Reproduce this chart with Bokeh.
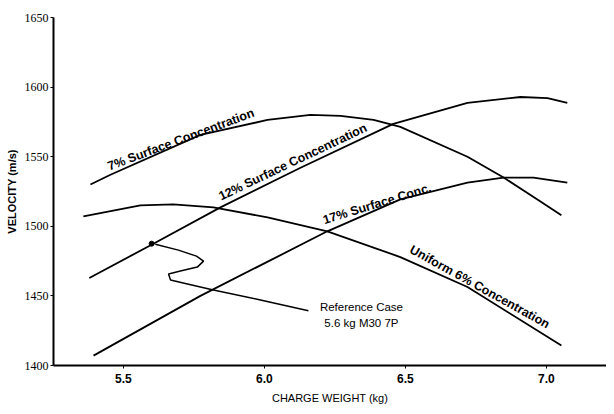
from bokeh.plotting import figure
from bokeh.models import Range1d, FixedTicker
from bokeh.core.properties import value
from bokeh.embed import file_html
from bokeh.resources import INLINE
import math

# ---- data ----
x_ticks = [5.5, 6.0, 6.5, 7.0]
x_tick_labels = ["5.5", "6.0", "6.5", "7.0"]
y_ticks = [1400, 1450, 1500, 1550, 1600, 1650]
y_tick_labels = ["1400", "1450", "1500", "1550", "1600", "1650"]

c7_x = [5.383, 5.454, 5.773, 6.011, 6.163, 6.270, 6.387, 6.482, 6.720, 6.848, 6.968, 7.053]
c7_y = [1530.0, 1537.0, 1565.7, 1576.4, 1580.0, 1579.3, 1576.4, 1571.4, 1550.0, 1535.0, 1519.3, 1507.9]

c12_x = [5.379, 5.603, 5.844, 6.128, 6.457, 6.720, 6.908, 7.004, 7.074]
c12_y = [1462.9, 1487.1, 1513.6, 1542.1, 1573.6, 1588.6, 1592.9, 1592.1, 1588.6]

c17_x = [5.394, 5.773, 6.223, 6.482, 6.720, 6.848, 6.954, 7.074]
c17_y = [1407.1, 1450.0, 1496.4, 1519.3, 1531.4, 1535.0, 1535.0, 1531.4]

uni_x = [5.358, 5.560, 5.677, 5.819, 6.011, 6.223, 6.482, 6.720, 7.053]
uni_y = [1507.1, 1515.0, 1515.7, 1513.6, 1506.4, 1496.4, 1477.9, 1456.4, 1414.3]

ref_x = [5.6]
ref_y = [1487.5]
pointer_x = [5.613, 5.695, 5.759, 5.784, 5.762, 5.702, 5.660, 5.667, 5.727, 5.819, 5.986, 6.156]
pointer_y = [1487.1, 1482.9, 1478.6, 1475.0, 1470.7, 1467.9, 1465.7, 1461.4, 1458.6, 1454.3, 1447.1, 1439.3]

curve_labels = ["7% Surface Concentration", "12% Surface Concentration",
                "17% Surface Conc.", "Uniform 6% Concentration"]
ref_label = "Reference Case\n5.6 kg M30 7P"

# ---- figure ----
p = figure(width=606, height=406, output_backend="svg", toolbar_location=None,
           x_range=Range1d(5.252, 7.213), y_range=Range1d(1400, 1650),
           min_border_left=53, min_border_right=0, min_border_top=17, min_border_bottom=39)
p.outline_line_color = None
p.xgrid.visible = False
p.ygrid.visible = False
p.background_fill_color = "white"

for ax in (p.xaxis[0], p.yaxis[0]):
    ax.axis_line_width = 2
    ax.axis_line_color = "black"
    ax.major_tick_in = 0
    ax.major_tick_out = 3
    ax.minor_tick_line_color = None
    ax.major_tick_line_color = "black"
    ax.major_label_text_color = "black"
    ax.axis_label_text_color = "black"

p.xaxis.ticker = FixedTicker(ticks=x_ticks)
p.xaxis.major_label_overrides = {t: l for t, l in zip(x_ticks, x_tick_labels)}
p.yaxis.ticker = FixedTicker(ticks=y_ticks)
p.yaxis.major_label_overrides = {t: l for t, l in zip(y_ticks, y_tick_labels)}

p.xaxis.major_label_text_font = "Liberation Sans"
p.xaxis.major_label_text_font_size = "12px"
p.xaxis.major_label_text_font_style = "bold"
p.xaxis.major_label_standoff = 5
p.yaxis.major_label_text_font = "Liberation Serif"
p.yaxis.major_label_text_font_size = "12px"
p.yaxis.major_label_standoff = 2

p.xaxis.axis_label = "CHARGE WEIGHT (kg)"
p.yaxis.axis_label = "VELOCITY (m/s)"
p.xaxis.axis_label_text_font = "Liberation Sans"
p.yaxis.axis_label_text_font = "Liberation Sans"
p.xaxis.axis_label_text_font_style = "normal"
p.yaxis.axis_label_text_font_style = "bold"
p.xaxis.axis_label_text_font_size = "11px"
p.yaxis.axis_label_text_font_size = "11px"
p.xaxis.axis_label_standoff = 6
p.yaxis.axis_label_standoff = 4

lw = 1.8
p.line(c7_x, c7_y, line_color="black", line_width=lw)
p.line(c12_x, c12_y, line_color="black", line_width=lw)
p.line(c17_x, c17_y, line_color="black", line_width=lw)
p.line(uni_x, uni_y, line_color="black", line_width=lw)
p.line(pointer_x, pointer_y, line_color="black", line_width=1.5)
p.scatter(ref_x, ref_y, marker="circle", size=5, color="black")

# curve labels (anchor points & angles are layout, not data)
lab_x = [5.454, 5.851, 6.216, 6.507]
lab_y = [1538.0, 1516.5, 1499.5, 1479.5]
lab_a = [math.radians(20.5), math.radians(25.5), math.radians(17), math.radians(-29)]
p.text(x=lab_x, y=lab_y, text=curve_labels, angle=lab_a,
       text_font=value("Liberation Sans"), text_font_size="12.5px",
       text_font_style="bold", text_align="left", text_baseline="bottom",
       text_color="black")

p.text(x=[6.344], y=[1446.0], text=[ref_label], text_align="center", text_baseline="top",
       text_font=value("Liberation Sans"), text_font_size="11.5px",
       text_color="black", text_line_height=1.3)

open("out.html", "w").write(file_html(p, INLINE))
